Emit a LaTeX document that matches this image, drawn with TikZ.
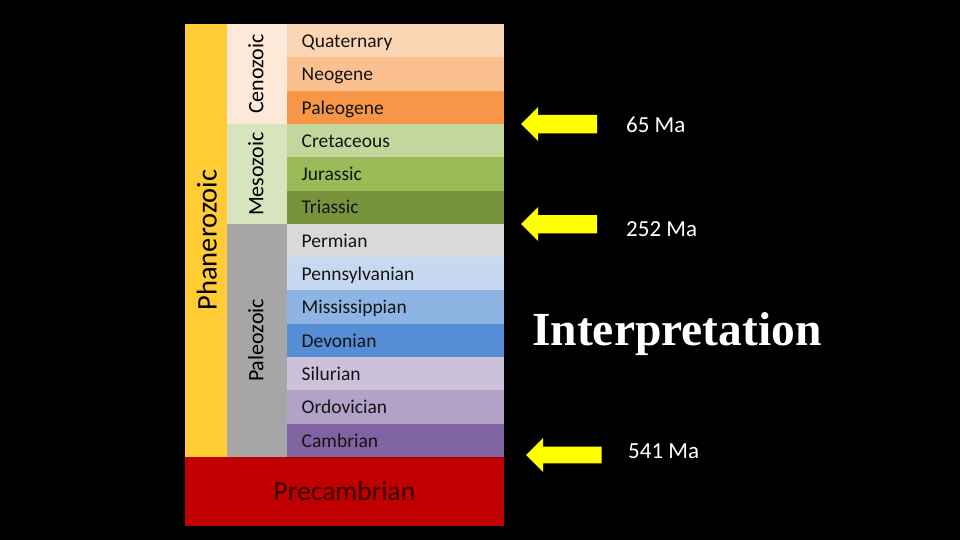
\documentclass[tikz,border=0pt]{standalone}
\usepackage{fontspec}
\setmainfont{Carlito}
\newfontfamily\timesfont{Liberation Serif}
\definecolor{cPhan}{RGB}{255,204,51}
\definecolor{cCeno}{RGB}{253,233,217}
\definecolor{cMeso}{RGB}{215,228,189}
\definecolor{cPaleo}{RGB}{166,166,166}
\definecolor{cQuat}{RGB}{252,213,181}
\definecolor{cNeo}{RGB}{250,192,144}
\definecolor{cPaleog}{RGB}{247,150,70}
\definecolor{cCret}{RGB}{195,214,155}
\definecolor{cJur}{RGB}{155,187,89}
\definecolor{cTri}{RGB}{119,147,60}
\definecolor{cPerm}{RGB}{217,217,217}
\definecolor{cPenn}{RGB}{198,217,241}
\definecolor{cMiss}{RGB}{141,180,226}
\definecolor{cDev}{RGB}{85,142,213}
\definecolor{cSil}{RGB}{204,193,218}
\definecolor{cOrd}{RGB}{179,162,199}
\definecolor{cCamb}{RGB}{128,100,162}
\definecolor{cPre}{RGB}{192,0,0}
\definecolor{cPreText}{RGB}{55,0,0}
\definecolor{cArrow}{RGB}{255,255,0}
\begin{document}
\begin{tikzpicture}[x=1pt,y=-1pt,
  box/.style={draw=none, inner sep=0pt, outer sep=0pt, anchor=north west},
  plabel/.style={inner sep=0pt, anchor=base west, text=black!92, font=\fontsize{19.5}{19.5}\selectfont},
  elabel/.style={inner sep=0pt, anchor=base, rotate=90, text=black, font=\fontsize{22}{22}\selectfont},
  yarrow/.style={fill=cArrow, draw=none},
  malabel/.style={inner sep=0pt, anchor=base west, text=white, font=\fontsize{23}{23}\selectfont}]
\useasboundingbox[fill=black] (0,0) rectangle (960,540);

% eon / era columns
\node[box, fill=cPhan, minimum width=42pt, minimum height=433pt] (phan) at (185,24) {};
\node[box, fill=cCeno, minimum width=60pt, minimum height=100pt] (ceno) at (227,24) {};
\node[box, fill=cMeso, minimum width=60pt, minimum height=100pt] (meso) at (227,124) {};
\node[box, fill=cPaleo, minimum width=60pt, minimum height=233pt] (paleo) at (227,224) {};
\node[box, fill=cPre, minimum width=319pt, minimum height=68.5pt] (pre) at (185,457) {};

% periods
\foreach \i/\nm/\col/\lab in {0/quat/cQuat/Quaternary, 1/neo/cNeo/Neogene, 2/paleog/cPaleog/Paleogene,
  3/cret/cCret/Cretaceous, 4/jur/cJur/Jurassic, 5/tri/cTri/Triassic, 6/perm/cPerm/Permian,
  7/penn/cPenn/Pennsylvanian, 8/miss/cMiss/Mississippian, 9/dev/cDev/Devonian, 10/sil/cSil/Silurian,
  11/ord/cOrd/Ordovician, 12/camb/cCamb/Cambrian} {
  \node[box, fill=\col, minimum width=217pt, minimum height=33.4pt] (\nm) at (287,{24+\i*33.31}) {};
  \node[plabel] (\nm-t) at (301.5,{24+\i*33.31+23.4}) {\lab};
}

% vertical labels
\node[elabel] (ceno-t) at (263.3,74) {Cenozoic};
\node[elabel] (meso-t) at (263.3,174) {Mesozoic};
\node[elabel] (paleo-t) at (263.3,340.5) {Paleozoic};
\node[elabel, font=\fontsize{28.5}{28.5}\selectfont] (phan-t) at (216.5,240) {Phanerozoic};
\node[inner sep=0pt, text=cPreText, font=\fontsize{27.5}{27.5}\selectfont] (pre-t) at (344.5,491) {Precambrian};

% arrows
\fill[yarrow] (521,124) -- (538,107) -- (538,115) -- (597,115) -- (597,133.3) -- (538,133.3) -- (538,141) -- cycle;
\fill[yarrow] (521,224) -- (538,207) -- (538,215) -- (597,215) -- (597,233.3) -- (538,233.3) -- (538,241) -- cycle;
\fill[yarrow] (526,455) -- (543,438) -- (543,446.7) -- (601.7,446.7) -- (601.7,463.3) -- (543,463.3) -- (543,472) -- cycle;

% ages
\node[malabel] (ma65) at (626,132.4) {65 Ma};
\node[malabel] (ma252) at (626,236) {252 Ma};
\node[malabel] (ma541) at (628,458.3) {541 Ma};

\node[inner sep=0pt, anchor=base west, text=white, font=\timesfont\bfseries\fontsize{47.5}{47.5}\selectfont] (interp) at (532,345) {Interpretation};
\end{tikzpicture}
\end{document}
